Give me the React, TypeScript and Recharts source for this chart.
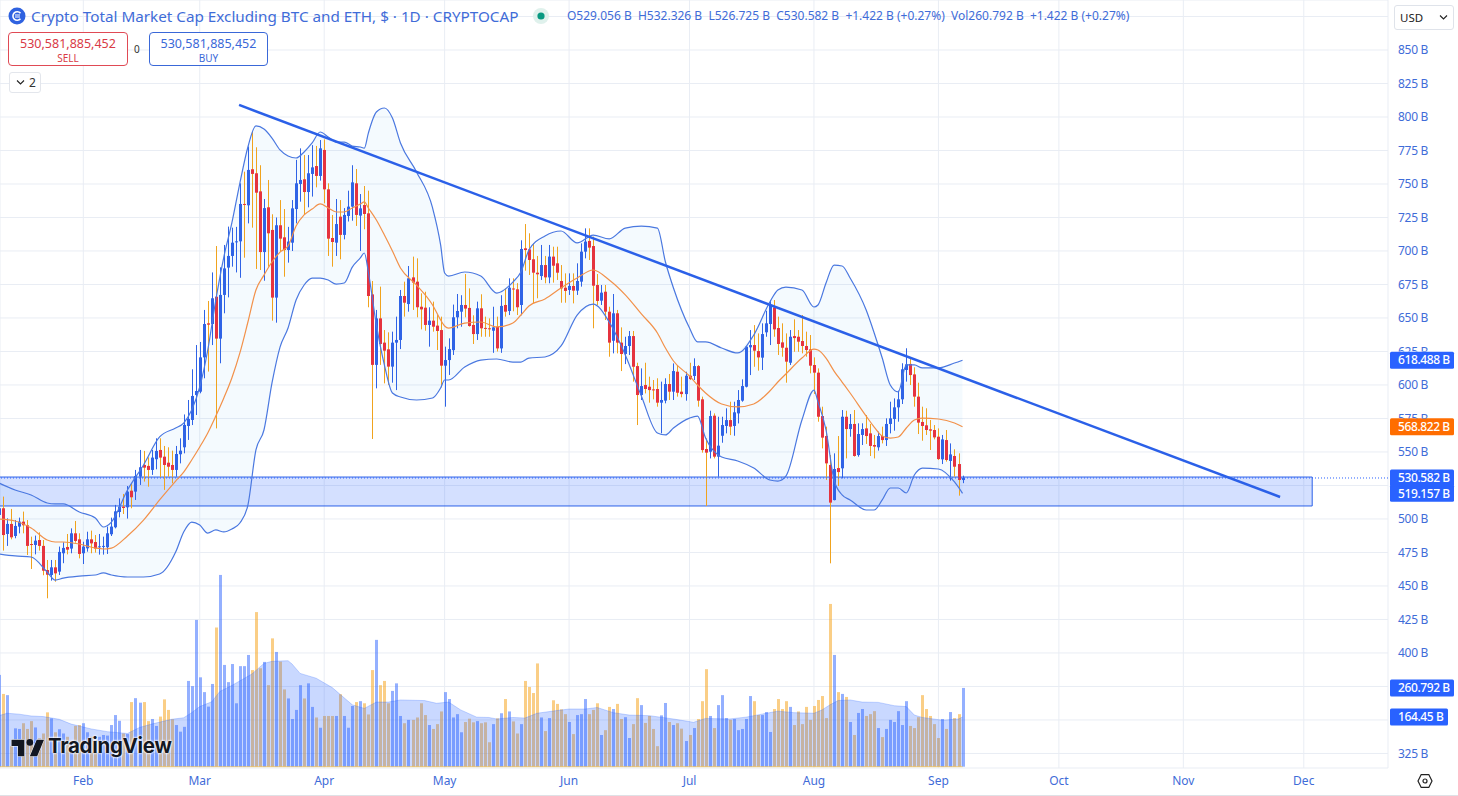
import React from 'react';
import { ComposedChart, Bar, Line, Area, XAxis, YAxis, CartesianGrid, ReferenceLine, ReferenceArea } from 'recharts';

const FONT = '"Noto Sans", sans-serif';
const BLUE = '#2962ff';
const TEXT = '#3f6cd8';

const opens = [503,508,488.8,496.3,487.3,494.3,498,495.3,481.3,480.6,484.3,479.9,461.9,458.2,463.9,460.7,474.4,479.1,477.9,489.3,484.8,474.4,478.1,484.8,482.8,478.9,479.4,478.9,488.6,493.8,505.2,509.2,508.7,521.1,520.4,531.6,540.3,539.6,536.6,544.6,551.5,546.5,542,540.3,536.6,548.3,553.5,569.4,573.9,592.5,595,620.6,646,645.5,665.9,634.6,667.2,687.6,696.3,706.7,707.2,735.1,734.1,761,758,744.5,699.2,732.6,715.7,665.2,719.2,710.2,700.7,706.2,731.3,750,753.5,744,757.5,763.4,756,775.4,746,709.7,706.2,725.6,712,726.1,733.1,750.5,726.4,734.3,728.1,667.6,615,649.7,631.6,626.6,613.7,631.6,633.6,666.4,660.4,680.3,677.1,658.4,657.7,644.8,648,644.3,641,614.4,618.6,626,650.5,654.7,659.7,657.5,644.8,638,657.2,642.6,642.3,640.5,643.5,627.3,659.7,655.2,672,671.4,659.7,702,701.2,693.8,683.8,681.3,689.5,680.3,695.8,690.8,677.6,672.6,670.9,673.9,670.4,677.1,699.5,707.5,703.7,674.6,662.9,669.6,654.7,633,653.5,631.6,623.1,629.1,636.5,614.1,592.5,600,598.7,596.7,597,586.8,588.3,600.7,595,609.9,595,593.2,606.9,606.7,614.1,589.3,552.2,550.2,577.1,546.5,562.1,569.4,573.8,569.4,578.8,588.3,598.7,628.1,629.8,625.3,620.4,639.3,645.5,657.9,642.5,631.8,627.8,616.6,636.5,636,632.8,629.1,626.6,614.9,609.2,576.8,561.9,540.3,514.1,538,537.8,576.3,567.1,570.9,547.7,562.7,567.6,563.9,555.2,553.5,561.9,558.9,570.9,574.6,583.3,589.3,611.2,615.7,607.9,591.3,572.4,569.9,566.9,566.4,561.4,544.5,558.9,543.3,547,541,529.056];
const highs = [516,516.7,500.5,507.5,499.2,501,505.5,499.2,486.8,487.6,490,484.3,469.4,469.4,469.4,479.4,482.6,488.8,493,498.5,489.3,483,490.5,491.3,488,488.8,486.8,494.3,501,510.5,515.4,518.7,524.6,526.6,536.6,551.5,550.8,546,551.5,560.2,560.2,554.5,553.5,551,554.5,560.2,578,588.8,611.7,629.8,632.1,656,662.7,684,703.7,687.8,704.5,718.2,717.4,718,750.5,759.2,778,789,777.4,764,738.8,753,727.4,725,738,731.3,718,738,768,776.6,771.6,771.6,779,778.4,782.8,783.3,750.5,726.9,738.8,738,732,745,764,761.2,742.5,748.5,745,677.6,656,673.4,641,639.3,639.8,651,670.9,677.1,688.8,695.8,694.5,668.4,669.6,658,662.2,652.2,651,628.6,634.8,660,667.9,667,682.8,672.1,652,662.2,667.7,651,649.7,658.4,651,667,672,679.6,679.6,676,708,720.1,713.2,705.7,696.3,704.5,696.3,704.5,703.2,703.2,689.5,683.3,683.3,683.3,690.8,705.7,716.9,716.9,710.7,682.8,674.6,674.6,658.4,667.9,656,643,636,640.3,640.3,616.6,612.4,616.6,606.2,603.7,605,602.5,605,608.2,616.1,614.9,606.2,609.9,616.6,619.9,614.9,591.3,560.2,580.8,578.8,576.3,576.3,582.6,587.5,587.5,596.2,604.2,629.1,641,644.7,638.5,646,655.4,663.4,663.4,651,646,638.5,641,649,641,652.2,639.8,637.3,620.6,612.4,583.8,568.9,547.7,549,561.9,581.3,580.8,578.3,581.3,571.4,571.4,577.6,570.9,562.7,565.2,568.9,575.1,587.5,590,595.8,616.2,627.4,620.6,613.2,601.7,583.8,582.6,573.9,570.1,567.6,562.7,566.4,556.4,552,549,532.326];
const lows = [495,476.4,479.9,484.8,485.6,489.3,489.3,473.1,462.7,473.6,476.4,458,440.8,454,453.2,458.2,467,473.6,474.4,482.3,470.6,466.4,475.6,474.4,474.9,473.4,473.4,473.9,487.3,493,501.2,503.7,500.3,508,514.2,525.4,527.9,524.1,532.9,537.1,531.1,521.7,531.6,526.6,531.6,541.5,549,559,570.1,577.6,593.8,605,610,629.8,567.6,616.2,653.5,665.4,688.3,684,680,695,720.6,717.4,686.6,685.8,677.8,688.3,648,646.5,699.5,680.8,691.3,700,720.6,736.8,726.9,732.6,740.6,747.5,752.5,735.6,696.3,688.3,696.3,693.8,708.7,722,722.6,718.7,700,716.2,658,559.7,597.5,615,601.2,600,601.7,596.2,626.8,651,654.7,656,650.5,641.5,640.5,628.6,639.8,626.1,598.2,583.8,607.5,622.4,642.3,643.5,650.5,643.5,630.6,633.6,636,636,636,624,625,624,651,652.2,655,652.2,652,685.3,682.1,661,664.7,678.4,675.9,675.9,676.4,678.4,661.4,661.4,667.2,660.9,667.2,673.4,694.5,693.3,642.3,659.7,659.7,648.5,621.1,623.6,623.6,610.4,615.6,622.4,602.5,570.1,588.8,593.7,586.8,589.3,583.8,563.9,586.3,588.8,588.8,591.3,590.8,588.3,603.7,603.7,583.8,549.5,509.7,545.2,545.2,531.5,556.9,563.9,562.6,562.1,571.3,587.5,598.2,607.4,613.6,610.7,611.2,636,629.8,636,622.4,621.1,601.7,614.9,624.8,624.8,623.6,621.1,608.7,593.3,572.6,552.7,529.1,466.9,513.9,524.6,530.3,545.2,561.4,546.5,546.5,555.2,556,547,545.2,551,556.4,554.5,563.9,565.9,572.6,585.8,602.5,600,583.8,563.4,558.4,562.7,551.5,559.4,544,541,542.8,528.6,531.6,517.4,526.725];
const closes = [508,488,496.3,486.3,494.8,498,495.3,479.9,480.6,483.8,479.9,461.4,458.4,463.9,459.4,475.4,478.4,477.1,489.3,483.6,473.9,479.4,484.8,481.8,477.9,479.6,479.9,489.3,494.3,505.7,509.2,508.2,520.4,516.2,532.1,538.6,538.3,536.6,545.8,550.8,545.8,540.3,539,536.6,548.5,551,570.2,574.6,591.8,595.5,620.6,645.5,645,664.7,634.6,667.2,687,696.3,706.2,707.2,735.1,734.6,760.5,757.5,743.5,699.2,732,713.2,665.2,719.2,709.2,700.7,707,731.8,750.5,753,744,758,762.4,756,776.6,746,709.2,706.7,720.1,712,726.9,733.1,751.2,726.9,731.8,727.6,666.4,615,649.7,630.6,625.6,613.7,631.6,633.6,666.4,661.4,679.6,676.4,658,656.4,644.8,648,643.5,640.3,614.4,618.6,626.8,650.5,655.2,659.7,657,644,638,657.2,642.3,642,641.6,643,627.3,659,654.7,672.6,671.7,658,701.5,700.7,693.3,683.8,682.6,689.5,680.3,695.8,689,683.8,672.1,670.2,673.9,670.4,677.6,699.5,707,702.5,674.1,662.7,668.9,654.7,631.6,653.5,631.6,623.1,629.1,636.5,613.6,592.5,599.2,597,596.2,596.2,586.8,588.8,600.7,595,610.4,594.2,593.2,606.9,604.4,614.1,588.3,551.4,549.5,576.8,546.5,554.7,570.1,573.8,568.9,579.6,588.8,599.2,628.6,629.8,625.6,620.6,638,646,659.7,641.5,630.6,627.8,617.4,636,635,632.3,629.1,626.1,614.4,609.2,576.3,560.7,541.5,512.2,537.3,535,576.3,567.1,570.9,547,563.4,567.1,561.9,554.5,554,561.9,558.9,570.9,575.1,583.3,589.3,611.7,615.4,607.4,591.3,571.9,569.4,566.4,565.9,560.9,544.7,559.4,544,548.2,539,529.1,530.582];
const volumes = [304,241,237,68,127,125,144,125,151,130,94,110,180,160,114,124,110,99,83,135,138,144,114,99,88,99,105,103,138,171,152,110,108,214,227,212,214,151,158,135,166,223,188,157,138,116,132,284,267,486,296,247,199,274,461,635,337,280,340,210,333,333,370,320,512,326,347,270,425,380,348,256,226,158,188,270,226,276,198,163,129,168,168,168,168,240,168,129,201,214,217,210,173,320,420,270,284,210,251,276,168,144,155,155,163,210,171,138,125,141,183,247,224,163,174,114,148,159,147,151,144,147,81,141,160,177,224,183,150,110,141,284,264,244,342,163,118,161,220,208,190,174,148,108,171,174,224,174,188,210,105,121,198,191,208,158,164,95,141,227,204,145,168,125,68,170,211,148,138,144,126,85,105,128,158,217,323,168,128,204,237,161,155,158,121,125,158,234,217,171,171,181,115,191,224,191,217,198,138,183,141,198,155,201,221,234,161,539,370,247,241,231,148,105,178,191,168,174,184,128,98,125,155,148,184,138,217,135,128,164,237,191,168,141,95,158,125,181,161,174,260.792];
const blueVolumeDojis = [52, 61];

const volumeAverageDays = [0,2,5,8,11,15,18,23,27,32,35,38,43,46,48,50,53,55,58,63,66,68,72,73,75,79,83,88,91,94,97,100,106,109,112,115,119,122,124,128,131,134,139,142,146,149,153,157,162,168,173,176,182,186,190,194,198,203,205,207,209,212,215,219,223,226,228,230,235,239,240];
const volumeAverage = [169,177,174,168,166,157,141,125,116,110,130,141,157,162,179,199,215,249,269,307,342,349,351,340,309,293,262,205,193,214,214,221,219,210,214,188,164,163,158,163,161,177,186,191,191,196,179,171,169,158,147,160,158,164,174,184,179,177,188,205,219,221,214,213,202,199,171,163,154,158,164.45];

const bandDays = [0,4,8,12,14,16,20,24,26,28,32,36,40,44,46,48,50,52,54,56,58,60,62,64,66,68,70,72,74,76,78,80,82,84,86,88,90,91,92,94,96,98,100,104,108,110,111,112,116,120,124,128,130,132,136,140,144,148,152,156,160,164,166,168,172,174,176,180,184,188,192,194,196,200,203,204,206,208,210,212,216,218,220,222,224,226,228,230,234,238,240];
const bandUpper = [526.8,521.6,517.9,511.9,511.2,511.2,505.2,500.7,494,497.7,521.6,540.3,561.2,567.9,571.6,581.3,598.5,626.1,663.4,695.5,720.9,750.7,777.6,793.3,791,784.3,775.4,770.9,769.4,773.9,780.6,788.8,785.1,781.3,781.3,778.3,777.6,776.8,788,803.7,806.7,799.2,780.6,759,732.1,704.5,683.6,681.3,684.3,681.3,668.6,676.8,684.3,700.7,711.2,714.9,706,711.9,709,717.1,718.6,717.1,691.8,672.4,642.5,632.1,632.1,627.6,623.9,637.3,661.9,670.9,673.1,670.9,658.2,659.7,676.1,689.5,688.8,679.8,655.9,638.8,620.1,600,594.8,615,615,612.7,612.7,616.4,618.488];
const bandBasis = [500,498.5,493.3,484.3,482.8,482.8,481.3,478.3,477.6,478.3,487.3,499.2,514.2,528.3,535,544,553.7,564.2,576.8,590.3,605.2,623.9,647,670.9,682,691.8,699.2,703.7,718.6,726.9,731.3,735.1,732.1,729.1,729.1,732.1,735.1,736.6,732.1,723.1,711.9,700,687.3,674.6,659.7,648.5,644,642.5,646.2,647,643.3,646.2,652.2,658.9,664.2,672.4,679.8,685.8,678.3,667.2,653,638.8,627.6,617.9,606.7,600,594,585.8,583.6,585.8,595.5,602.2,608.2,620.1,626.8,626.1,620.1,610.4,602.2,594,576.8,568.6,561.9,560.4,561.2,567.9,573.9,575.3,574.6,571.6,568.822];
const bandLower = [473.9,472.4,471.6,460.4,454.4,455.9,457.4,458.2,459.7,458.2,456.7,456.7,458.9,475.3,490.3,497.7,495.5,489.5,491.8,490.3,492.5,497,510.4,551.5,566.4,601.5,628.3,642.5,663.4,674.6,679.8,679.8,678.3,675.3,676.1,688,694.8,698.5,684.3,644.8,614.9,594,591,588.8,590.3,597.7,603.7,603.7,613.4,618.6,619.4,617.1,617.1,620.1,620.9,629.1,652.2,660.4,647,622.4,591.8,564.2,562.7,567.9,575.3,576.8,560.4,546.2,543.3,538,529.1,528.3,532,573.9,596.2,587.3,566.4,529.1,517.9,514.2,506.7,506.7,514.2,523.1,523.1,519.4,532.8,538,537.3,527.6,519.157];

const priceTicks = [325,350,375,400,425,450,475,500,525,550,575,600,625,650,675,700,725,750,775,800,825,850,875];
const hiddenPriceLabels = [350,375,525,875];
const peekingPriceLabels = [575,625];
const monthDays = [21,50,81,111,142,172,203,234,264,295,325];
const monthNames = ['Feb','Mar','Apr','May','Jun','Jul','Aug','Sep','Oct','Nov','Dec'];

const trend = { fromDay: 59.8, fromPrice: 809, toDay: 319.1, toPrice: 516.4 };
const zone = { toDay: 327.1, top: 531.3, bottom: 509.7 };
const priceTags = [
  { v: 618.488, c: BLUE, w: 64 },
  { v: 568.822, c: '#ff6d00', w: 64 },
  { v: 519.157, c: BLUE, w: 64 },
  { v: 530.582, c: BLUE, w: 64 },
];
const volumeTags = [
  { v: 260.792, c: BLUE, w: 64 },
  { v: 164.45, c: BLUE, w: 58 },
];

const rows = opens.map((o, i) => ({
  day: i, o, h: highs[i], l: lows[i], c: closes[i],
  range: [lows[i], highs[i]],
  vol: volumes[i],
}));
bandDays.forEach((d, k) => {
  Object.assign(rows[d], { upper: bandUpper[k], basis: bandBasis[k], lower: bandLower[k], band: [bandLower[k], bandUpper[k]] });
});
volumeAverageDays.forEach((d, k) => { Object.assign(rows[d], { volAvg: volumeAverage[k] }); });

const Candle = (p: any) => {
  const { x, y, width, height, payload } = p;
  const { o, h, l, c } = payload;
  if (height == null || h === l) return null;
  const at = (v: number) => y + ((h - v) / (h - l)) * height;
  const up = c >= o;
  const top = at(Math.max(o, c));
  const bot = at(Math.min(o, c));
  const cx = Math.floor(x + width / 2);
  return (
    <g>
      <rect x={cx} y={y} width={1} height={height} fill={up ? '#2f63e6' : '#f0a31e'} />
      <rect x={cx - 1} y={top} width={3} height={Math.max(bot - top, 1)} fill={up ? '#2f63e6' : '#e5333f'} />
    </g>
  );
};

const VolBar = (p: any) => {
  const { x, y, width, height, payload } = p;
  const up = payload.c >= payload.o || blueVolumeDojis.includes(payload.day);
  return <rect x={Math.floor(x + width / 2) - 1} y={y} width={3} height={height} fill={up ? 'rgba(41,98,255,0.5)' : 'rgba(245,166,35,0.55)'} />;
};

const Tag = (text: string, c: string, w: number) => (p: any) => {
  const vb = p.viewBox;
  return (
    <g>
      <rect x={1390} y={vb.y - 8.5} width={w} height={17} rx={1.5} fill={c} />
      <text x={1398} y={vb.y + 4.2} fontSize={12} letterSpacing={-0.4} fontFamily={FONT} fontWeight={500} fill="#fff">{text}</text>
    </g>
  );
};

const PriceTick = (p: any) => {
  const { y, payload } = p;
  if (hiddenPriceLabels.includes(payload.value)) return null;
  const peek = peekingPriceLabels.includes(payload.value);
  const id = `peek-${payload.value}`;
  return (
    <g>
      {peek && <clipPath id={id}><rect x={1390} y={y - 12} width={64} height={12} /></clipPath>}
      <text x={1398} y={y + 4.5} fontSize={12} letterSpacing={-0.3} fontFamily={FONT} fill={TEXT} clipPath={peek ? `url(#${id})` : undefined}>{payload.value} B</text>
    </g>
  );
};

const abs = (s: React.CSSProperties): React.CSSProperties => ({ position: 'absolute', fontFamily: FONT, whiteSpace: 'nowrap', ...s });

export default function App() {
  const zProps: any = { zIndex: 350 };
  return (
    <div style={{ position: 'absolute', left: 0, top: 0, width: 1458, height: 796, background: '#fff', overflow: 'hidden' }}>
      <ComposedChart width={1458} height={796} data={rows} margin={{ top: 0, right: 0, bottom: 0, left: 0 }}>
        <CartesianGrid xAxisId="p" yAxisId="p" stroke="#e9edf4" strokeWidth={1} />
        <XAxis xAxisId="p" dataKey="day" type="number" domain={[0.249, 345.98]} allowDataOverflow ticks={monthDays}
          tickFormatter={(d: number) => monthNames[monthDays.indexOf(d)]} axisLine={false} tickLine={false} height={28} interval={0}
          tick={{ fontSize: 12, fontFamily: FONT, fill: TEXT, dy: 0 }} />
        <XAxis xAxisId="v" dataKey="day" type="number" domain={[0.249, 345.98]} allowDataOverflow hide />
        <YAxis yAxisId="p" orientation="right" type="number" domain={[314.15, 887.31]} ticks={priceTicks} interval={0} width={70}
          axisLine={false} tickLine={false} tick={<PriceTick />} allowDataOverflow />
        <YAxis yAxisId="v" orientation="left" type="number" domain={[-4.3, 2539]} hide allowDataOverflow />

        <Area xAxisId="p" yAxisId="p" dataKey="band" connectNulls stroke="none" fill="rgba(33,150,243,0.05)" fillOpacity={1} isAnimationActive={false} dot={false} activeDot={false} />
        <Bar xAxisId="v" yAxisId="v" dataKey="vol" barSize={3} shape={<VolBar />} isAnimationActive={false} />
        <Area {...zProps} xAxisId="v" yAxisId="v" dataKey="volAvg" connectNulls stroke="rgba(41,98,255,0.25)" strokeWidth={1} fill="rgba(41,98,255,0.25)" fillOpacity={1} isAnimationActive={false} dot={false} activeDot={false} />
        <ReferenceLine xAxisId="v" yAxisId="v" segment={[{ x: 0.249, y: 0 }, { x: 240, y: 0 }]} stroke="rgba(245,190,70,0.7)" />

        <ReferenceArea xAxisId="p" yAxisId="p" x1={-2} x2={zone.toDay} y1={zone.bottom} y2={zone.top} fill="rgba(41,98,255,0.2)" fillOpacity={1} stroke="#2b60e8" strokeWidth={1} ifOverflow="visible" />
        <ReferenceLine xAxisId="p" yAxisId="p" y={530.582} stroke={BLUE} strokeDasharray="1 2" strokeWidth={1} />

        <Line xAxisId="p" yAxisId="p" dataKey="upper" connectNulls type="monotone" stroke="#4a78e0" strokeWidth={1.2} dot={false} activeDot={false} isAnimationActive={false} />
        <Line xAxisId="p" yAxisId="p" dataKey="lower" connectNulls type="monotone" stroke="#4a78e0" strokeWidth={1.2} dot={false} activeDot={false} isAnimationActive={false} />
        <Line xAxisId="p" yAxisId="p" dataKey="basis" connectNulls type="monotone" stroke="#f2914a" strokeWidth={1.2} dot={false} activeDot={false} isAnimationActive={false} />

        <Bar xAxisId="p" yAxisId="p" dataKey="range" barSize={3} shape={<Candle />} isAnimationActive={false} />

        <ReferenceLine xAxisId="p" yAxisId="p" segment={[{ x: trend.fromDay, y: trend.fromPrice }, { x: trend.toDay, y: trend.toPrice }]} stroke="#2b60e8" strokeWidth={2.5} />

        {priceTags.map((t) => (
          <ReferenceLine key={t.v} xAxisId="p" yAxisId="p" y={t.v} stroke="none" label={Tag(`${t.v} B`, t.c, t.w)} />
        ))}
        {volumeTags.map((t) => (
          <ReferenceLine key={t.v} xAxisId="v" yAxisId="v" y={t.v} stroke="none" label={Tag(`${t.v} B`, t.c, t.w)} />
        ))}
      </ComposedChart>

      {/* header */}
      <svg style={{ position: 'absolute', left: 8, top: 7 }} width={18} height={18} viewBox="0 0 18 18">
        <circle cx={9} cy={9} r={8.5} fill="#2f62e0" />
        <path d="M12.5 6.2A4.3 4.3 0 1 0 12.5 11.8" stroke="#fff" strokeWidth={1.6} fill="none" />
        <path d="M7 8h5M7 10h5" stroke="#fff" strokeWidth={1.1} />
      </svg>
      <div style={abs({ left: 31, top: 6, fontSize: 15.25, lineHeight: '20px', color: TEXT })}>Crypto Total Market Cap Excluding BTC and ETH, $ · 1D · CRYPTOCAP</div>
      <svg style={{ position: 'absolute', left: 532, top: 7 }} width={18} height={18}>
        <circle cx={9} cy={9} r={8} fill="#dff1ec" />
        <circle cx={9} cy={9} r={3.6} fill="#089981" />
      </svg>
      <div style={abs({ left: 567, top: 8, fontSize: 12, lineHeight: '16px', color: TEXT, wordSpacing: 0 })}>
        O529.056 B&nbsp; H532.326 B&nbsp; L526.725 B&nbsp; C530.582 B&nbsp; +1.422 B (+0.27%)&nbsp; Vol260.792 B&nbsp; +1.422 B (+0.27%)
      </div>
      <div style={abs({ left: 8, top: 32, width: 118, height: 32, border: '1px solid #e04a55', borderRadius: 4, textAlign: 'center', color: '#d93a46', background: '#fff' })}>
        <div style={{ fontSize: 12.5, lineHeight: '17px', marginTop: 2 }}>530,581,885,452</div>
        <div style={{ fontSize: 10, lineHeight: '12px' }}>SELL</div>
      </div>
      <div style={abs({ left: 134, top: 43, fontSize: 10, lineHeight: '13px', color: '#333' })}>0</div>
      <div style={abs({ left: 149, top: 32, width: 117, height: 32, border: '1px solid #3a68d8', borderRadius: 4, textAlign: 'center', color: '#3a68d8', background: '#fff' })}>
        <div style={{ fontSize: 12.5, lineHeight: '17px', marginTop: 2 }}>530,581,885,452</div>
        <div style={{ fontSize: 10, lineHeight: '12px' }}>BUY</div>
      </div>
      <div style={abs({ left: 9, top: 72, width: 30, height: 19, border: '1px solid #e3e6ec', borderRadius: 3, background: '#fff', color: '#333', fontSize: 12, lineHeight: '19px' })}>
        <svg style={{ position: 'absolute', left: 6, top: 6 }} width={9} height={7}><path d="M1 1.5L4.5 5L8 1.5" stroke="#222" strokeWidth={1.1} fill="none" /></svg>
        <span style={{ position: 'absolute', left: 19, top: 0 }}>2</span>
      </div>
      <div style={abs({ left: 1394, top: 5, width: 58, height: 23, border: '1px solid #dfe3ea', borderRadius: 3, background: '#fff', color: '#222', fontSize: 11.5, lineHeight: '23px' })}>
        <span style={{ position: 'absolute', left: 5, top: 0 }}>USD</span>
        <svg style={{ position: 'absolute', left: 44, top: 8 }} width={9} height={7}><path d="M1 1.5L4.5 5L8 1.5" stroke="#222" strokeWidth={1.1} fill="none" /></svg>
      </div>

      {/* watermark */}
      <svg style={{ position: 'absolute', left: 11, top: 736 }} width={34} height={22} viewBox="0 0 36 24">
        <path d="M14 22H7V11H0V4h14v18zM28 22h-8l7.5-18h8L28 22z" fill="#131722" stroke="#fff" strokeWidth={1} paintOrder="stroke" />
        <circle cx={20} cy={7} r={3.6} fill="#131722" />
      </svg>
      <div style={abs({ left: 48, top: 733, fontFamily: '"Inter", sans-serif', fontWeight: 700, fontSize: 20.5, lineHeight: '26px', color: '#131722', letterSpacing: -0.3, textShadow: '0 0 2px #fff, 0 0 2px #fff, 0 0 3px #fff' })}>TradingView</div>

      {/* settings icon */}
      <svg style={{ position: 'absolute', left: 1417, top: 773 }} width={16} height={16} viewBox="0 0 16 16">
        <path d="M4.2 1.6h7.6L15 8l-3.2 6.4H4.2L1 8z" fill="none" stroke="#222" strokeWidth={1.2} />
        <circle cx={8} cy={8} r={2} fill="none" stroke="#222" strokeWidth={1.2} />
      </svg>
      <div style={{ position: 'absolute', left: 0, top: 795, width: 1458, height: 1, background: '#dfe1e6' }} />
    </div>
  );
}
